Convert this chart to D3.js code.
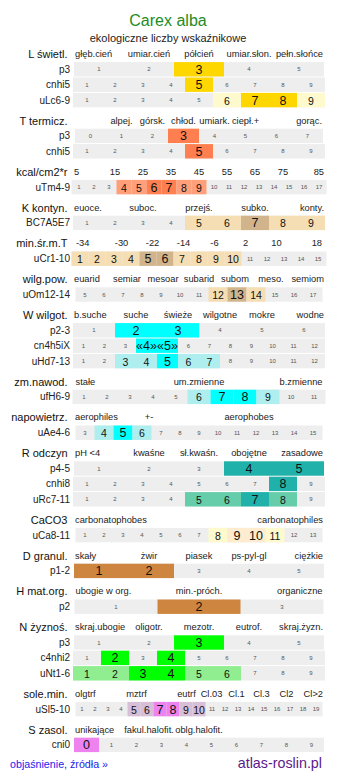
<!DOCTYPE html>
<html>
<head>
<meta charset="utf-8">
<script src="https://cdn.jsdelivr.net/npm/d3@7/dist/d3.min.js"></script>
<style>
  html, body { margin: 0; padding: 0; background: #fff; }
  svg { display: block; font-family: "Liberation Sans", Arial, sans-serif; }
</style>
</head>
<body>
<svg id="chart" width="337" height="781"></svg>
<script>
// ---------- DATA ----------
const title = "Carex alba";
const subtitle = "ekologiczne liczby wskaźnikowe";
const linkText = "objaśnienie, źródła »";
const siteText = "atlas-roslin.pl";

const headerNames = ["L świetl.", "T termicz.", "kcal/cm2*r", "K kontyn.", "min.śr.m.T", "wilg.pow.",
  "W wilgot.", "zm.nawod.", "napowietrz.", "R odczyn", "CaCO3", "D granul.", "H mat.org.",
  "N żyznoś.", "sole.min.", "S zasol."];

const headerLabels = [
  ["głęb.cień", "umiar.cień", "półcień", "umiar.słon.", "pełn.słońce"],
  ["", "alpej.", "górsk.", "chłod.", "umiark.", "ciepł.+", "", "gorąc."],
  ["5", "15", "25", "35", "45", "55", "65", "75", "85"],
  ["euoce.", "", "suboc.", "", "przejś.", "", "subko.", "", "konty."],
  ["-34", "-30", "-22", "-14", "-6", "2", "10", "18"],
  ["euarid", "semiar", "mesoar", "subarid", "subom", "meso.", "semiom"],
  ["b.suche", "suche", "świeże", "wilgotne", "mokre", "wodne"],
  ["stałe", "um.zmienne", "b.zmienne"],
  ["aerophiles", "+-", "", "aerophobes", ""],
  ["pH <4", "kwaśne", "sł.kwaśn.", "obojętne", "zasadowe"],
  ["carbonatophobes", "carbonatophiles"],
  ["skały", "żwir", "piasek", "ps-pyl-gl", "ciężkie"],
  ["ubogie w org.", "min.-próch.", "organiczne"],
  ["skraj.ubogie", "oligotr.", "mezotr.", "eutrof.", "skraj.żyzn."],
  ["olgtrf", "", "mztrf", "", "eutrf", "Cl.03", "Cl.1", "Cl.3", "Cl2", "Cl>2"],
  ["unikające", "fakul.halofit.", "oblg.halofit.", "", ""]
];

// [strong colour, light colour] per group
const groupColors = [
  ["#FFD700", "#FFFACD"], ["#FF7F50", "#FFA07A"], ["#FF7F50", "#FFA07A"],
  ["#D2B48C", "#F5DEB3"], ["#D2B48C", "#F5DEB3"], ["#D2B48C", "#F5DEB3"],
  ["#00FFFF", "#AFEEEE"], ["#00FFFF", "#AFEEEE"], ["#00FFFF", "#AFEEEE"],
  ["#20B2AA", "#66CDAA"], ["#FFEBCD", "#FFFACD"], ["#CD853F", "#DEB887"],
  ["#CD853F", "#DEB887"], ["#00FF00", "#90EE90"], ["#EE82EE", "#D8BFD8"],
  ["#EE82EE", "#D8BFD8"]
];

const cells1to3 = ["1", "2", "3"];
const cells1to5 = ["1", "2", "3", "4", "5"];
const cells1to6 = ["1", "2", "3", "4", "5", "6"];
const cells0to7 = ["0", "1", "2", "3", "4", "5", "6", "7"];
const cells1to9 = ["1", "2", "3", "4", "5", "6", "7", "8", "9"];
const cells0to9 = ["0", "1", "2", "3", "4", "5", "6", "7", "8", "9"];
const cells1to11 = ["1", "2", "3", "4", "5", "6", "7", "8", "9", "10", "11"];
const cells1to12 = ["1", "2", "3", "4", "5", "6", "7", "8", "9", "10", "11", "12"];
const cellsCn4h5iX = ["1", "2", "3", "«4»", "«5»", "6", "7", "8", "9", "10", "11", "12"];
const cells1to13 = ["1", "2", "3", "4", "5", "6", "7", "8", "9", "10", "11", "12", "13"];
const cells3to15 = ["3", "4", "5", "6", "7", "8", "9", "10", "11", "12", "13", "14", "15"];
const cells5to17 = ["5", "6", "7", "8", "9", "10", "11", "12", "13", "14", "15", "16", "17"];
const cells1to15 = ["1", "2", "3", "4", "5", "6", "7", "8", "9", "10", "11", "12", "13", "14", "15"];
const cells1to17 = ["1", "2", "3", "4", "5", "6", "7", "8", "9", "10", "11", "12", "13", "14", "15", "16", "17"];
const cells1to19 = ["1", "2", "3", "4", "5", "6", "7", "8", "9", "10", "11", "12", "13", "14", "15", "16", "17", "18", "19"];

const rowLabels = ["p3", "cnhi5", "uLc6-9", "p3", "cnhi5", "uTm4-9", "BC7A5E7", "uCr1-10", "uOm12-14",
  "p2-3", "cn4h5iX", "uHd7-13", "ufH6-9", "uAe4-6", "p4-5", "cnhi8", "uRc7-11", "uCa8-11", "p1-2",
  "p2", "p3", "c4nhi2", "uNt1-6", "uSl5-10", "cni0"];
const rowGroup = [0, 0, 0, 1, 1, 2, 3, 4, 5, 6, 6, 6, 7, 8, 9, 9, 9, 10, 11, 12, 13, 13, 13, 14, 15];
const rowCells = [cells1to5, cells1to9, cells1to9, cells0to7, cells1to9, cells1to17, cells1to9, cells1to15,
  cells5to17, cells1to6, cellsCn4h5iX, cells1to12, cells1to11, cells3to15, cells1to5, cells1to9, cells1to9,
  cells1to13, cells1to5, cells1to3, cells1to5, cells1to9, cells1to9, cells1to19, cells0to9];
const rowStrong = [["3"], ["5"], ["7", "8"], ["3"], ["5"], ["6", "7"], ["7"], ["5", "6"], ["13"],
  ["2", "3"], ["«4»", "«5»"], ["5"], ["7", "8"], ["5"], ["4", "5"], ["8"], ["7"], ["9", "10"],
  ["1", "2"], ["2"], ["3"], ["2", "4"], ["3", "4"], ["7", "8"], ["0"]];
const rowLight = [[], [], ["6", "9"], [], [], ["4", "5", "8", "9"], ["5", "6", "8", "9"],
  ["1", "2", "3", "4", "7", "8", "9", "10"], ["12", "14"], [], [], ["3", "4", "6", "7"], ["6", "9"],
  ["4", "6"], [], [], ["5", "6", "8"], ["8", "11"], [], [], [], [], ["1", "2", "5", "6"],
  ["5", "6", "9", "10"], []];

// ---------- LAYOUT ----------
const svg = d3.select("#chart");
const gridCenter = 199, gridWidth = 250;
const firstHeaderY = 54, headerToRow = 15.3, rowPitch = 15.4, rowToHeader = 20.5, rowH = 14.4;

function bandFor(domain) {
  const n = domain.length;
  const cw = Math.round(gridWidth / n);
  return d3.scaleBand().domain(domain).range([gridCenter - n * cw / 2, gridCenter + n * cw / 2]);
}

svg.append("text").attr("x", 168).attr("y", 20).attr("text-anchor", "middle")
  .attr("dominant-baseline", "central").attr("font-size", 16).attr("fill", "#1E8C1E").text(title);
svg.append("text").attr("x", 168).attr("y", 38).attr("text-anchor", "middle")
  .attr("dominant-baseline", "central").attr("font-size", 11).attr("fill", "#222").text(subtitle);

let y = firstHeaderY;
headerNames.forEach((name, g) => {
  svg.append("text").attr("x", 67.5).attr("y", y).attr("text-anchor", "end")
    .attr("dominant-baseline", "central").attr("font-size", 11).attr("fill", "#111").text(name);
  const labs = headerLabels[g];
  const slotDomain = labs.map((d, i) => String(i));
  const sx = bandFor(slotDomain);
  const [r0, r1] = sx.range();
  labs.forEach((lab, i) => {
    if (!lab) return;
    let x, anchor;
    if (i === 0) { x = r0 + 1; anchor = "start"; }
    else if (i === labs.length - 1) { x = r1 - 1; anchor = "end"; }
    else { x = sx(String(i)) + sx.bandwidth() / 2; anchor = "middle"; }
    svg.append("text").attr("x", x).attr("y", y).attr("text-anchor", anchor)
      .attr("dominant-baseline", "central").attr("font-size", 9.3).attr("fill", "#222").text(lab);
  });
  const idx = rowGroup.map((gg, i) => gg === g ? i : -1).filter(i => i >= 0);
  let cy = y + headerToRow;
  idx.forEach((ri, k) => {
    cy = y + headerToRow + k * rowPitch;
    const cells = rowCells[ri];
    const x = bandFor(cells);
    const [x0, x1] = x.range();
    const row = svg.append("g");
    row.append("text").attr("x", 70).attr("y", cy).attr("text-anchor", "end")
      .attr("dominant-baseline", "central").attr("font-size", 10).attr("fill", "#222").text(rowLabels[ri]);
    row.append("rect").attr("x", x0).attr("y", cy - rowH / 2).attr("width", x1 - x0)
      .attr("height", rowH).attr("fill", "#EEEEEE");
    const strong = new Set(rowStrong[ri]), light = new Set(rowLight[ri]);
    const level = d => strong.has(d) ? 2 : (light.has(d) ? 1 : 0);
    row.selectAll("rect.cell").data(cells.filter(d => level(d) > 0)).join("rect")
      .attr("class", "cell")
      .attr("x", d => x(d)).attr("y", cy - rowH / 2)
      .attr("width", x.bandwidth()).attr("height", rowH)
      .attr("fill", d => level(d) === 2 ? groupColors[g][0] : groupColors[g][1]);
    row.selectAll("text.num").data(cells).join("text")
      .attr("class", "num")
      .attr("x", d => x(d) + x.bandwidth() / 2).attr("y", d => level(d) ? cy + 0.5 : cy)
      .attr("text-anchor", "middle").attr("dominant-baseline", "central")
      .attr("font-size", d => level(d) === 2 ? 12.5 : (level(d) === 1 ? 10.5 : 6))
      .attr("fill", d => level(d) ? "#111" : "#555")
      .text(d => d);
  });
  y = cy + rowToHeader;
});

svg.append("text").attr("x", 10).attr("y", 768).attr("font-size", 10.7).attr("fill", "#2222EE").text(linkText);
svg.append("text").attr("x", 322).attr("y", 767.5).attr("text-anchor", "end").attr("font-size", 14.3)
  .attr("fill", "#5B1A8B").text(siteText);
</script>
</body>
</html>
